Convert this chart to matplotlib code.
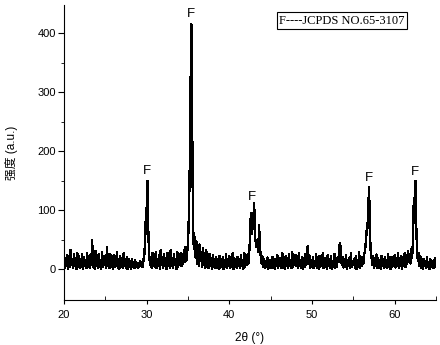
import numpy as np
import matplotlib.pyplot as plt

# XRD pattern, 0.1 degree steps starting at 20 degrees
intensity = [
    30, 3, 18, 6, 24, 1, 20, 4, 33, 7,        # 20
    15, 2, 26, 5, 19, 0, 28, 6, 22, 3,        # 21
    17, 4, 25, 1, 21, 6, 16, 2, 27, 5,        # 22
    20, 3, 24, 7, 50, 4, 18, 1, 31, 6,        # 23
    21, 2, 26, 5, 16, 0, 29, 4, 23, 8,        # 24
    18, 3, 38, 6, 20, 2, 25, 5, 17, 1,        # 25
    24, 4, 19, 7, 30, 3, 15, 1, 22, 5,        # 26
    16, 2, 27, 6, 14, 3, 21, 0, 18, 4,        # 27
    13, 1, 17, 5, 12, 2, 15, 4, 10, 3,        # 28
    11, 5, 14, 6, 12, 4, 15, 22, 45, 90,      # 29
    105, 150, 60, 25, 8, 20, 3, 28, 5, 22,    # 30
    4, 30, 2, 18, 6, 24, 1, 33, 7, 20,        # 31
    3, 26, 5, 17, 0, 28, 6, 21, 2, 32,        # 32
    5, 19, 3, 25, 7, 16, 1, 29, 4, 22,        # 33
    8, 27, 5, 20, 10, 33, 12, 38, 15, 30,     # 34
    45, 90, 165, 300, 415, 240, 80, 35, 55, 20,  # 35
    48, 10, 38, 6, 42, 15, 30, 4, 36, 8,      # 36
    28, 3, 33, 6, 22, 2, 26, 5, 19, 1,        # 37
    24, 4, 18, 2, 21, 6, 15, 1, 23, 3,        # 38
    17, 5, 20, 0, 16, 4, 25, 2, 18, 6,        # 39
    22, 3, 15, 5, 27, 1, 19, 4, 14, 2,        # 40
    21, 6, 17, 3, 24, 5, 16, 1, 28, 4,        # 41
    19, 7, 25, 10, 30, 50, 95, 60, 70, 85,    # 42
    112, 55, 45, 38, 50, 30, 75, 25, 30, 10,  # 43
    22, 4, 18, 2, 14, 5, 20, 1, 12, 3,        # 44
    16, 2, 21, 4, 13, 0, 18, 5, 24, 3,        # 45
    15, 6, 19, 2, 28, 4, 14, 1, 22, 5,        # 46
    17, 3, 25, 6, 16, 2, 30, 4, 20, 7,        # 47
    24, 5, 18, 2, 27, 6, 15, 3, 21, 1,        # 48
    19, 4, 26, 7, 33, 40, 10, 22, 3, 16,      # 49
    5, 20, 2, 14, 6, 25, 3, 18, 1, 23,        # 50
    4, 16, 7, 28, 2, 19, 5, 15, 0, 24,        # 51
    6, 17, 3, 22, 1, 14, 5, 26, 2, 18,        # 52
    4, 20, 12, 38, 45, 25, 8, 21, 3, 17,      # 53
    5, 24, 1, 15, 6, 19, 2, 27, 4, 13,        # 54
    7, 18, 3, 23, 0, 16, 5, 29, 2, 20,        # 55
    6, 21, 10, 25, 30, 45, 65, 70, 100, 140,  # 56
    60, 30, 20, 8, 22, 3, 17, 5, 25, 2,       # 57
    19, 4, 14, 1, 23, 6, 16, 3, 20, 5,        # 58
    15, 2, 26, 7, 18, 0, 21, 4, 13, 6,        # 59
    24, 3, 17, 5, 28, 2, 19, 6, 22, 1,        # 60
    18, 7, 27, 4, 20, 9, 31, 12, 25, 10,      # 61
    35, 20, 45, 110, 115, 150, 75, 35, 15, 28,  # 62
    5, 22, 3, 14, 1, 18, 6, 12, 2, 20,        # 63
    4, 13, 0, 17, 5, 11, 2, 15, 3, 19,        # 64
    6,                                        # 65
]
two_theta = 20 + 0.1 * np.arange(len(intensity))

# peak markers
peak_x = [30.0, 35.35, 42.7, 56.9, 62.45]
peak_y = [167, 432, 122, 155, 165]

plt.rcParams['font.family'] = ['Liberation Sans', 'Noto Sans CJK SC', 'DejaVu Sans']

fig = plt.figure(figsize=(4.4, 3.45), dpi=100)
ax = fig.add_axes([0.1455, 0.1304, 0.8455, 0.8551])

ax.plot(two_theta, intensity, color='black', lw=1.0, antialiased=False)

for x, y in zip(peak_x, peak_y):
    ax.text(x, y, 'F', ha='center', va='center', fontsize=9.5)

ax.text(53.6, 421, 'F----JCPDS NO.65-3107', ha='center', va='center',
        fontsize=9, family='Liberation Serif',
        bbox=dict(boxstyle='square,pad=0.2', fc='white', ec='black', lw=0.8))

ax.set_xlim(20, 65)
ax.set_ylim(-52, 448)
ax.set_xticks([20, 30, 40, 50, 60])
ax.set_xticks([25, 35, 45, 55, 65], minor=True)
ax.set_yticks([0, 100, 200, 300, 400])
ax.set_yticks([50, 150, 250, 350], minor=True)

ax.spines['top'].set_visible(False)
ax.spines['right'].set_visible(False)
ax.tick_params(axis='x', which='major', direction='out', length=3, labelsize=8, pad=4)
ax.tick_params(axis='x', which='minor', direction='in', length=3)
ax.tick_params(axis='y', which='major', direction='out', length=4, labelsize=8, pad=2)
ax.tick_params(axis='y', which='minor', direction='out', length=2)

ax.set_xlabel('2θ (°)', fontsize=8.5, labelpad=9)
ax.set_ylabel('强度 (a.u.)', fontsize=8.5, labelpad=14)

fig.savefig('out.png', dpi=100)
